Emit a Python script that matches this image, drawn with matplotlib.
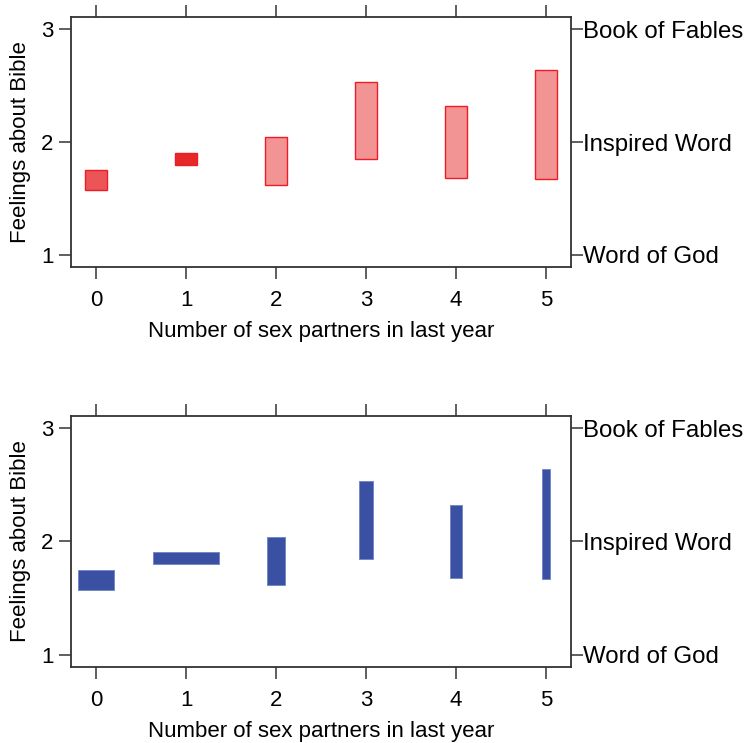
import matplotlib
matplotlib.use('Agg')
import matplotlib.pyplot as plt
from matplotlib.patches import Rectangle

plt.rcParams['font.family'] = ['Liberation Sans', 'DejaVu Sans']

partners = [0, 1, 2, 3, 4, 5]
lower = [1.573, 1.80, 1.614, 1.849, 1.677, 1.668]
upper = [1.751, 1.905, 2.044, 2.533, 2.323, 2.637]
# top panel: opacity by sample size, bottom panel: width by sample size
red_alpha = [0.74, 0.94, 0.47, 0.47, 0.47, 0.47]
blue_width = [0.403, 0.733, 0.20, 0.152, 0.126, 0.093]
right_labels = ['Word of God', 'Inspired Word', 'Book of Fables']

fig = plt.figure(figsize=(7.49, 7.43), dpi=100)
ax1 = fig.add_axes([0.0948, 0.6406, 0.6675, 0.3365])
ax2 = fig.add_axes([0.0948, 0.1023, 0.6675, 0.3378])


def style(ax):
    ax.set_xlim(-0.28, 5.28)
    ax.set_ylim(0.89, 3.11)
    ax.set_xticks(partners)
    ax.set_yticks([1, 2, 3])
    for s in ax.spines.values():
        s.set_color('#333333')
        s.set_linewidth(1.3)
    ax.tick_params(axis='both', direction='out', length=8.5, width=1.1,
                   color='#333333', labelsize=16, top=True, pad=8)
    ax.tick_params(axis='y', pad=4)
    ax.set_xlabel('Number of sex partners in last year', fontsize=16, labelpad=7)
    ax.set_ylabel('Feelings about Bible', fontsize=16, labelpad=7)
    rax = ax.twinx()
    rax.set_ylim(ax.get_ylim())
    rax.set_yticks([1, 2, 3])
    rax.set_yticklabels(right_labels)
    rax.tick_params(axis='y', direction='out', length=8.5, width=1.1,
                    color='#333333', labelsize=17.3, pad=0)
    for s in rax.spines.values():
        s.set_visible(False)


style(ax1)
style(ax2)

w = 0.24
for x, lo, hi, a in zip(partners, lower, upper, red_alpha):
    ax1.add_patch(Rectangle((x - w / 2, lo), w, hi - lo,
                            facecolor=(0.894, 0.102, 0.11, a),
                            edgecolor='#ee1c25', linewidth=1.0))

for x, lo, hi, bw in zip(partners, lower, upper, blue_width):
    ax2.add_patch(Rectangle((x - bw / 2, lo), bw, hi - lo,
                            facecolor='#3a51a3', edgecolor='#6f82c4',
                            linewidth=0.6))

fig.savefig('out.png', dpi=100)
